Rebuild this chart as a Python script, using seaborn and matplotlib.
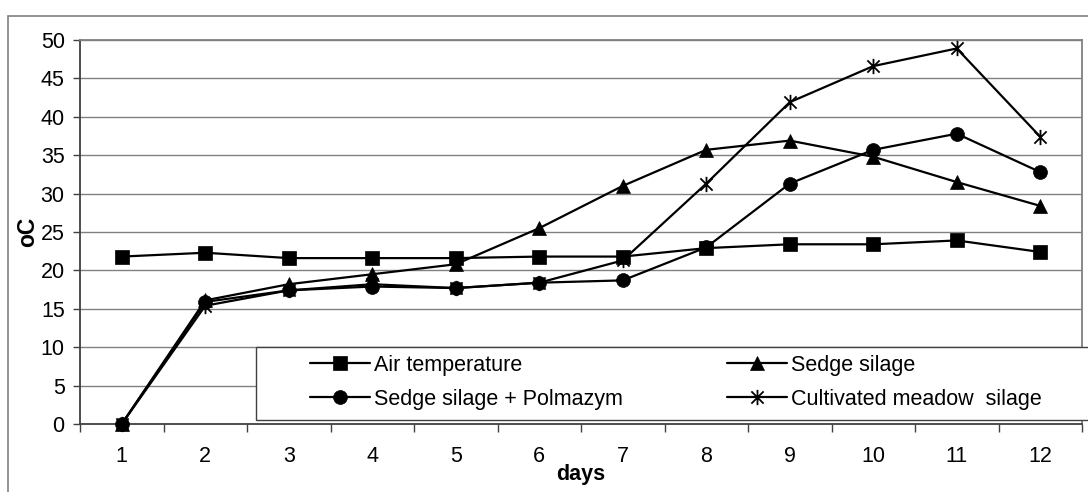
import numpy as np
import pandas as pd
import matplotlib
matplotlib.use("Agg")
import matplotlib.pyplot as plt
from matplotlib.path import Path
from matplotlib.patches import Rectangle
from matplotlib.ticker import FixedLocator, NullFormatter, FixedFormatter
import seaborn as sns

days = [1, 2, 3, 4, 5, 6, 7, 8, 9, 10, 11, 12]
air_temperature = [21.8, 22.3, 21.6, 21.6, 21.6, 21.8, 21.8, 22.9, 23.4, 23.4, 23.9, 22.4]
sedge_silage = [0, 16.1, 18.2, 19.5, 20.8, 25.5, 31.0, 35.7, 36.9, 34.8, 31.5, 28.4]
sedge_polmazym = [0, 15.9, 17.4, 17.9, 17.7, 18.4, 18.7, 23.0, 31.3, 35.7, 37.8, 32.8]
cultivated_meadow = [0, 15.4, 17.4, 18.2, 17.7, 18.4, 21.3, 31.3, 41.9, 46.6, 48.9, 37.4]
series_names = ["Air temperature", "Sedge silage", "Sedge silage + Polmazym", "Cultivated meadow  silage"]
y_ticks = [0, 5, 10, 15, 20, 25, 30, 35, 40, 45, 50]

series_values = [air_temperature, sedge_silage, sedge_polmazym, cultivated_meadow]
df = pd.DataFrame({
    "day": np.tile(days, len(series_names)),
    "temp": np.concatenate(series_values),
    "series": np.repeat(series_names, len(days)),
})

sns.set_theme(style="white")
plt.rcParams['font.family'] = ['Liberation Sans', 'DejaVu Sans']

FS = 15.5

# asterisk-like star marker: vertical line plus X
star = Path(
    [(0, -1), (0, 1), (-0.8, -0.8), (0.8, 0.8), (-0.8, 0.8), (0.8, -0.8)],
    [Path.MOVETO, Path.LINETO, Path.MOVETO, Path.LINETO, Path.MOVETO, Path.LINETO],
)

fig = plt.figure(figsize=(10.88, 4.92), dpi=100)
ax = fig.add_axes([80 / 1088, 1 - 424 / 492, 1002 / 1088, 384 / 492])

markers = {series_names[0]: "s", series_names[1]: "^", series_names[2]: "o", series_names[3]: star}
sizes = {series_names[0]: 9.5, series_names[1]: 10, series_names[2]: 10, series_names[3]: 11}

for name in series_names:
    sub = df[df["series"] == name]
    sns.lineplot(data=sub, x="day", y="temp", ax=ax, color="black", linewidth=1.6,
                 marker=markers[name], markersize=sizes[name],
                 markeredgecolor="black", markerfacecolor="black",
                 markeredgewidth=1.3 if name == series_names[3] else 0.5,
                 label=name, clip_on=False, zorder=3)

ax.set_xlim(0.5, 12.5)
ax.set_ylim(0, 50)
ax.yaxis.set_major_locator(FixedLocator(y_ticks))
ax.grid(axis="y", color="#808080", linewidth=1.0)
ax.set_axisbelow(True)

ax.xaxis.set_major_locator(FixedLocator(np.arange(0.5, 13, 1)))
ax.xaxis.set_major_formatter(NullFormatter())
ax.xaxis.set_minor_locator(FixedLocator(days))
ax.xaxis.set_minor_formatter(FixedFormatter([str(d) for d in days]))
ax.tick_params(axis="x", which="major", direction="out", length=6, width=1, color="#404040", bottom=True)
ax.tick_params(axis="x", which="minor", length=0, pad=15.5, labelsize=FS, bottom=True, labelcolor="black")
ax.tick_params(axis="y", direction="out", length=5, width=1, color="#404040", left=True,
               labelsize=FS, pad=6, labelcolor="black")

for s in ["left", "bottom"]:
    ax.spines[s].set_color("#404040")
    ax.spines[s].set_linewidth(1.3)
for s in ["top", "right"]:
    ax.spines[s].set_color("#808080")
    ax.spines[s].set_linewidth(1.3)

ax.set_xlabel("days", fontsize=FS, fontweight="bold", labelpad=-2, color="black")
ax.set_ylabel("oC", fontsize=FS + 1, fontweight="bold", labelpad=1, color="black")

if ax.get_legend():
    ax.get_legend().remove()
h, l = ax.get_legend_handles_labels()

# legend frame (extends past the plot area, as in the reference)
fig.patches.append(Rectangle((256 / 1088, 1 - 420 / 492), 900 / 1088, 73 / 492,
                             transform=fig.transFigure, facecolor="white",
                             edgecolor="#404040", linewidth=1.0, zorder=4))

common = dict(ncol=1, loc="upper left", frameon=False, fontsize=FS,
              handlelength=2.8, handletextpad=0.15, borderpad=0, borderaxespad=0,
              labelspacing=0.6)
leg1 = fig.legend([h[0], h[2]], [l[0], l[2]], bbox_to_anchor=(310 / 1088, 1 - 355 / 492), **common)
leg2 = fig.legend([h[1], h[3]], [l[1], l[3]], bbox_to_anchor=(727 / 1088, 1 - 355 / 492), **common)
for lg in (leg1, leg2):
    lg.set_zorder(5)
    for t in lg.get_texts():
        t.set_color("black")

# outer chart border
fig.patches.append(Rectangle((8 / 1088, -0.2), 1.2, 1.2 - 16 / 492, transform=fig.transFigure,
                             fill=False, edgecolor="#808080", linewidth=1.2, zorder=0))

fig.savefig("out.png", dpi=100)
